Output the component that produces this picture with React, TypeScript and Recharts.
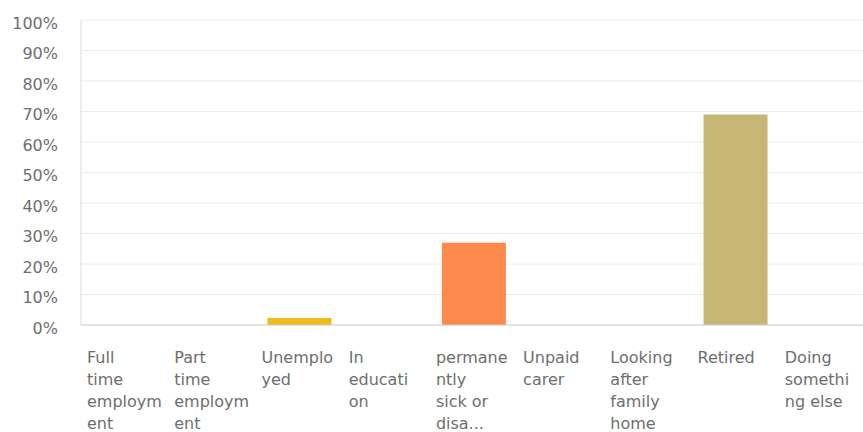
import React from 'react';
import { BarChart, Bar, XAxis, YAxis, CartesianGrid, Cell } from 'recharts';

// categories, with the line breaks as they appear in the reference
const categories = [
  'Full time employment',
  'Part time employment',
  'Unemployed',
  'In education',
  'permanently sick or disabled',
  'Unpaid carer',
  'Looking after family home',
  'Retired',
  'Doing something else',
];

const tickLines = [
  ['Full', 'time', 'employm', 'ent'],
  ['Part', 'time', 'employm', 'ent'],
  ['Unemplo', 'yed'],
  ['In', 'educati', 'on'],
  ['permane', 'ntly', 'sick or', 'disa...'],
  ['Unpaid', 'carer'],
  ['Looking', 'after', 'family', 'home'],
  ['Retired'],
  ['Doing', 'somethi', 'ng else'],
];

const percentages = [0, 0, 2.3, 0, 27, 0, 0, 69, 0];

const barColors = ['#F0BE1B', '#F0BE1B', '#EDBB1A', '#F0BE1B', '#FF884D', '#8FA9C7', '#8FA9C7', '#C7B777', '#C7B777'];

const yTicks = [0, 10, 20, 30, 40, 50, 60, 70, 80, 90, 100];

const data = categories.map((name, i) => ({ name, value: percentages[i], idx: i }));

const FONT = '"DejaVu Sans", sans-serif';
const TEXT = '#6e6e6e';

const CHART_W = 866;
const LEFT = 81;
const BAND = (CHART_W - LEFT) / categories.length;

const CategoryTick = (props: any) => {
  const { x, y, index } = props;
  const lines = tickLines[index] || [];
  const left = x - BAND / 2 + 6;
  return (
    <text x={left} y={y} fill={TEXT} fontSize={16} fontFamily={FONT} textAnchor="start">
      {lines.map((l, i) => (
        <tspan key={i} x={left} dy={i === 0 ? 30 : 22}>{l}</tspan>
      ))}
    </text>
  );
};

export default function App() {
  return (
    <div style={{ position: 'absolute', left: 0, top: 0, width: 863, height: 432, overflow: 'hidden', background: '#fff' }}>
      <BarChart width={CHART_W} height={432} data={data} margin={{ top: 20, right: 0, bottom: 0, left: 0 }} barSize={64}>
        <CartesianGrid vertical={false} stroke="#ececec" />
        <XAxis
          dataKey="name"
          interval={0}
          height={107}
          tickLine={false}
          axisLine={{ stroke: '#cfcfcf' }}
          tick={<CategoryTick />}
        />
        <YAxis
          width={LEFT}
          domain={[0, 100]}
          ticks={yTicks}
          tickFormatter={(v) => `${v}%`}
          tickLine={false}
          tickSize={0}
          tickMargin={23}
          axisLine={{ stroke: '#dcdcdc' }}
          tick={{ fill: TEXT, fontSize: 16, fontFamily: FONT, dy: 3 }}
        />
        <Bar dataKey="value" isAnimationActive={false}>
          {data.map((d) => (
            <Cell key={d.idx} fill={barColors[d.idx]} />
          ))}
        </Bar>
      </BarChart>
    </div>
  );
}
